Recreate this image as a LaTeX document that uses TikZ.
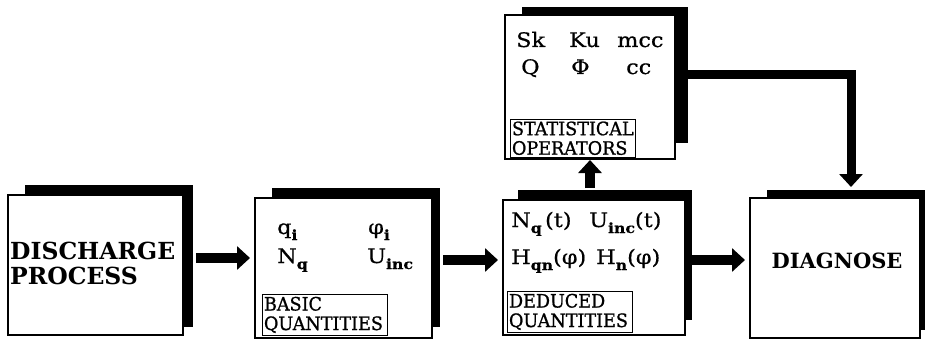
\documentclass[tikz,border=0pt]{standalone}
\usepackage{fontspec}
\setmainfont{DejaVu Serif}
\newfontfamily\lblfont[FakeStretch=0.95,FakeBold=1]{DejaVu Serif}
\newfontfamily\symfont[FakeStretch=1.12,FakeBold=0.6]{DejaVu Serif}
\usetikzlibrary{arrows.meta}
\newcommand\lowsub[1]{\raisebox{-0.3em}{\fontsize{14}{14}\selectfont\bfseries #1}}
\begin{document}
\begin{tikzpicture}[x=1pt,y=-1pt,
  shadowbox/.style={fill=black,draw=none,inner sep=0pt,outer sep=0pt},
  frontbox/.style={fill=white,draw=black,line width=1.2pt,inner sep=0pt,outer sep=0pt},
  lbl/.style={draw=black,line width=1pt,fill=white,font=\lblfont\fontsize{18.5}{19.5}\selectfont,align=left,inner sep=2pt,outer sep=0pt,anchor=south west,text width=121pt},
  txt/.style={anchor=base west,inner sep=0pt,font=\symfont\fontsize{20}{22}\selectfont},
  bigtxt/.style={inner sep=0pt,font=\bfseries\fontsize{23.5}{25}\selectfont,align=left},
  bigarrow/.style={line width=10pt,line join=miter,-{Triangle[length=13pt,width=23pt]}}]
\useasboundingbox (0,0) rectangle (925,342);
% shadows
\node[shadowbox,minimum width=168pt,minimum height=142pt] (b1s) at (109,256) {};
\node[shadowbox,minimum width=168pt,minimum height=139pt] (b2s) at (356,257.5) {};
\node[shadowbox,minimum width=174pt,minimum height=130pt] (b3s) at (605,255) {};
\node[shadowbox,minimum width=166pt,minimum height=136pt] (b4s) at (605,75) {};
\node[shadowbox,minimum width=168pt,minimum height=140pt] (b5s) at (851,260) {};
% front boxes
\node[frontbox,minimum width=175pt,minimum height=140pt] (b1) at (95.5,265) {};
\node[frontbox,minimum width=177pt,minimum height=140pt] (b2) at (343.5,268) {};
\node[frontbox,minimum width=182pt,minimum height=135pt] (b3) at (594,267.5) {};
\node[frontbox,minimum width=170pt,minimum height=144pt] (b4) at (590,87) {};
\node[frontbox,minimum width=170pt,minimum height=140pt] (b5) at (835,268) {};
% big texts
\node[bigtxt,anchor=west] (t1) at (10,263) {DISCHARGE\\PROCESS};
\node[bigtxt,font=\bfseries\fontsize{21}{24}\selectfont] (t5) at (837,261) {DIAGNOSE};
% box 2
\node[txt] (q2a) at (277,234) {q\lowsub{i}};
\node[txt] (q2b) at (368,234) {φ\lowsub{i}};
\node[txt] (q2c) at (277,263) {N\lowsub{q}};
\node[txt] (q2d) at (367,263) {U\lowsub{inc}};
\node[lbl] (l2) at (262,335) {BASIC\\QUANTITIES};
% box 3
\node[txt] (q3a) at (511,227) {N\lowsub{q}\,(t)};
\node[txt] (q3b) at (589,227) {U\lowsub{inc}(t)};
\node[txt] (q3c) at (511,264) {H\lowsub{qn}(φ)};
\node[txt] (q3d) at (596,264) {H\lowsub{n}(φ)};
\node[lbl] (l3) at (507,332) {DEDUCED\\QUANTITIES};
% box 4
\node[txt] (s1) at (516,47) {Sk};
\node[txt] (s2) at (569,47) {Ku};
\node[txt] (s3) at (617,47) {mcc};
\node[txt] (s4) at (521,74) {Q};
\node[txt] (s5) at (571,74) {Φ};
\node[txt] (s6) at (626,74) {cc};
\node[lbl] (l4) at (510,157) {STATISTICAL\\OPERATORS};
% arrow end points
\coordinate (a1s) at ([xshift=3pt,yshift=-2pt]b1s.east);
\coordinate (a1e) at (b2.west |- a1s);
\coordinate (a2s) at ([xshift=3pt,yshift=-2.5pt]b2s.east);
\coordinate (a2e) at (b3.west |- a2s);
\coordinate (a3s) at ([yshift=-5pt]b3s.east);
\coordinate (a3e) at (b5.west |- a3s);
\coordinate (a4s) at (b3s.north -| b4.south);
% arrows
\draw[bigarrow] (a1s) -- ([xshift=-5pt]a1e);
\draw[bigarrow] (a2s) -- ([xshift=-5pt]a2e);
\draw[bigarrow] (a3s) -- ([xshift=-5pt]a3e);
\draw[bigarrow] ([yshift=2pt]a4s) -- ([yshift=-1pt]b4.south);
\draw[bigarrow,line width=9pt] (b4s.east) -| ([yshift=3pt]b5s.north);
\end{tikzpicture}
\end{document}
